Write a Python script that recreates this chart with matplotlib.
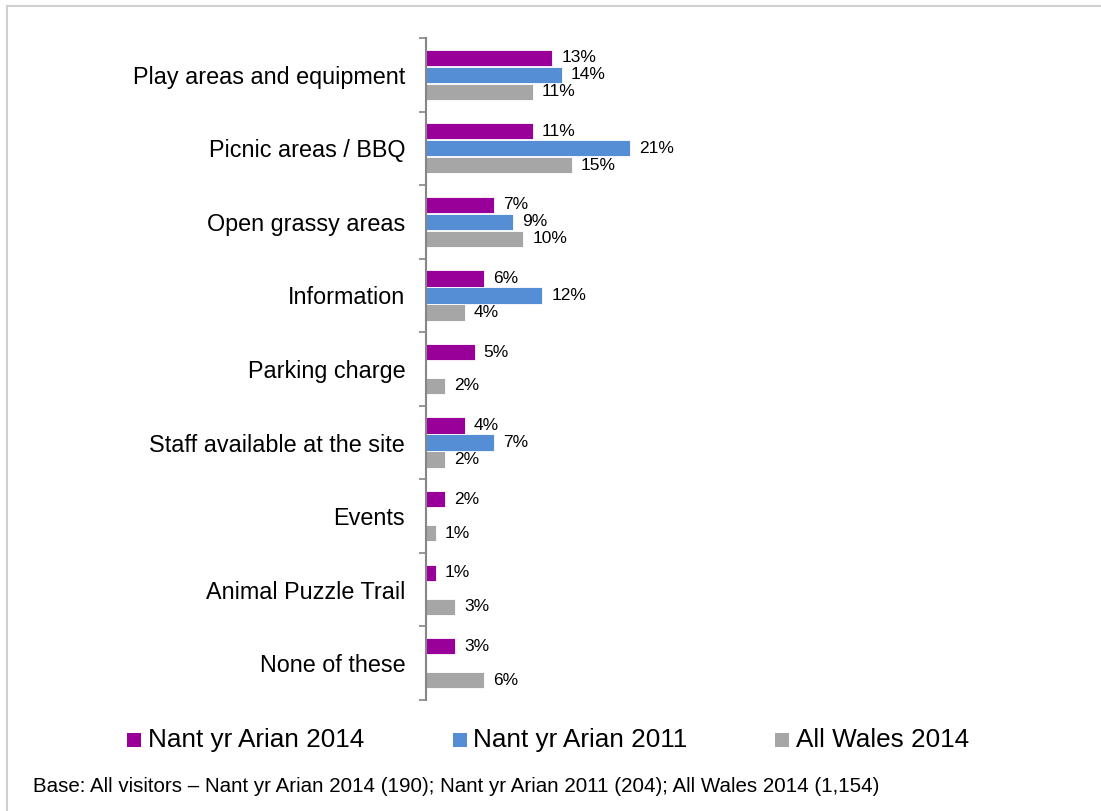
import numpy as np
import matplotlib
matplotlib.use("Agg")
import matplotlib.pyplot as plt
from matplotlib.lines import Line2D
from matplotlib.patches import Rectangle

plt.rcParams['font.family'] = ['Liberation Sans', 'DejaVu Sans']

categories = ["Play areas and equipment", "Picnic areas / BBQ", "Open grassy areas",
              "Information", "Parking charge", "Staff available at the site",
              "Events", "Animal Puzzle Trail", "None of these"]
nya_2014 = [13, 11, 7, 6, 5, 4, 2, 1, 3]
nya_2011 = [14, 21, 9, 12, None, 7, None, None, None]
wales_2014 = [11, 15, 10, 4, 2, 2, 1, 3, 6]
series_names = ["Nant yr Arian 2014", "Nant yr Arian 2011", "All Wales 2014"]
colors = ["#990099", "#558ED5", "#A6A6A6"]
base_note = "Base: All visitors \u2013 Nant yr Arian 2014 (190); Nant yr Arian 2011 (204); All Wales 2014 (1,154)"

W, H = 1101, 811
fig = plt.figure(figsize=(W / 100, H / 100), dpi=100)

# light frame along the left and top edges
fig.add_artist(Line2D([7 / W, 7 / W], [0, 1 - 6 / H], transform=fig.transFigure, color="#D0D0D0", lw=1.5))
fig.add_artist(Line2D([7 / W, 1], [1 - 6 / H, 1 - 6 / H], transform=fig.transFigure, color="#D0D0D0", lw=1.5))

ax_left, ax_right, ax_top, ax_bot = 426, 1000, 38, 700
ax = fig.add_axes([ax_left / W, 1 - ax_bot / H, (ax_right - ax_left) / W, (ax_bot - ax_top) / H])
px_per_pct = 9.7
ax.set_xlim(0, (ax_right - ax_left) / px_per_pct)
ax.set_ylim(len(categories) - 0.5, -0.5)

y = np.arange(len(categories))
offset = 0.231
height = 0.22
for k, (vals, col) in enumerate(zip([nya_2014, nya_2011, wales_2014], colors)):
    ypos = y + (k - 1) * offset
    idx = [i for i, v in enumerate(vals) if v is not None]
    v = [vals[i] for i in idx]
    ax.barh(ypos[idx], v, height=height, color=col, edgecolor="white", linewidth=0.6)
    for yi, vi in zip(ypos[idx], v):
        ax.text(vi + 0.95, yi, f"{vi}%", va="center", ha="left", fontsize=12.5, color="#000000")

ax.set_yticks(y)
ax.set_yticklabels(categories, fontsize=16.8)
ax.tick_params(axis="y", which="major", length=0, pad=15)
ax.set_yticks(np.arange(-0.5, len(categories)), minor=True)
ax.tick_params(axis="y", which="minor", length=5, width=1.2, color="#868686")
ax.set_xticks([])
for s in ["top", "right", "bottom"]:
    ax.spines[s].set_visible(False)
ax.spines["left"].set_color("#868686")
ax.spines["left"].set_linewidth(1.5)

# legend: colour swatches followed by series names
legend_y = 740
swatch_x = [127, 453, 775]
label_x = [148, 473, 796]
for name, col, sx, tx in zip(series_names, colors, swatch_x, label_x):
    fig.add_artist(Rectangle((sx / W, 1 - 747 / H), 14 / W, 14 / H, transform=fig.transFigure,
                             facecolor=col, edgecolor="none"))
    fig.text(tx / W, 1 - legend_y / H, name, fontsize=18.8, va="center", ha="left")

fig.text(33 / W, 1 - 787 / H, base_note, fontsize=14.8, va="center", ha="left")

fig.savefig("out.png", dpi=100)
